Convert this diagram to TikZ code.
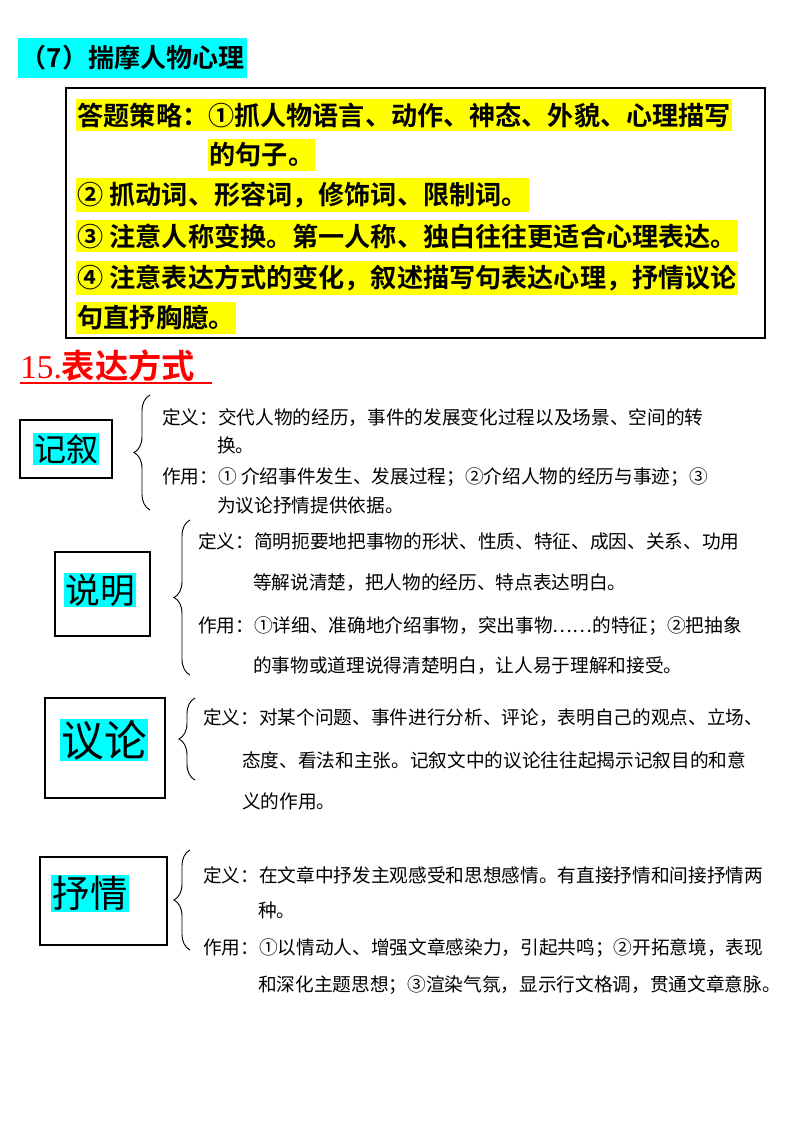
\documentclass[tikz,border=0pt]{standalone}
\usepackage{fontspec}
\setmainfont{Noto Sans CJK SC}
\newfontfamily\cjkb{Noto Sans CJK SC Bold}
\newfontfamily\serifb{Liberation Serif}
\usetikzlibrary{decorations.pathreplacing}
\definecolor{cy}{RGB}{0,255,255}
\definecolor{yl}{RGB}{255,255,0}
\tikzset{
 hl/.style={fill=yl,inner xsep=1pt,inner ysep=3pt,anchor=west,font=\cjkb\fontsize{19.6}{21}\selectfont},
 body/.style={anchor=west,inner sep=0pt,font=\fontsize{14}{15}\selectfont},
 bodyb/.style={anchor=west,inner sep=0pt,font=\fontsize{14}{15}\selectfont},
 kbox/.style={draw,line width=0.8pt},
 klab/.style={fill=cy,inner sep=1pt},
 br/.style={decorate,decoration={brace,amplitude=12pt},line width=0.7pt}
}
\begin{document}
\begin{tikzpicture}[x=0.75pt,y=-0.75pt]
\useasboundingbox (0,0) rectangle (800,1132);
\node[fill=cy,anchor=west,inner sep=2pt,minimum height=40*0.75pt,font=\cjkb\fontsize{19.5}{21}\selectfont] (t7) at (18,58) {（7）揣摩人物心理};
\draw[line width=0.8pt] (66,88) rectangle (765,338);
\node[hl] (l1) at (76,115) {答题策略：①抓人物语言、动作、神态、外貌、心理描写};
\node[hl] (l2) at (208,155) {的句子。};
\node[hl] (l3) at (76,195) {② 抓动词、形容词，修饰词、限制词。};
\node[hl] (l4) at (76,236) {③ 注意人称变换。第一人称、独白往往更适合心理表达。};
\node[hl] (l5) at (76,278) {④ 注意表达方式的变化，叙述描写句表达心理，抒情议论};
\node[hl] (l6) at (76,318) {句直抒胸臆。};
\node[anchor=west,inner sep=0pt,text=red,font=\fontsize{25}{27}\selectfont] (t15) at (20,366) {\serifb 15.\cjkb 表达方式};
\draw[red,line width=1pt] (20,383) -- (212,383);
% 记叙
\draw[kbox] (20,420) rectangle (112,478);
\node[klab,font=\fontsize{24}{26}\selectfont] (k1) at (66,449) {记叙};
\draw[br] (150,510) -- (150,395);
\node[body] (a1) at (162,418) {定义：交代人物的经历，事件的发展变化过程以及场景、空间的转};
\node[body] (a2) at (217,445) {换。};
\node[body] (a3) at (162,477) {作用：① 介绍事件发生、发展过程；②介绍人物的经历与事迹；③};
\node[body] (a4) at (217,505) {为议论抒情提供依据。};
% 说明
\draw[kbox] (55,552) rectangle (150,636);
\node[klab,font=\fontsize{26}{28}\selectfont] (k2) at (100,590) {说明};
\draw[br] (190,675) -- (190,520);
\node[bodyb] (b1) at (198,541) {定义：简明扼要地把事物的形状、性质、特征、成因、关系、功用};
\node[bodyb] (b2) at (253,583) {等解说清楚，把人物的经历、特点表达明白。};
\node[bodyb] (b3) at (198,626) {作用：①详细、准确地介绍事物，突出事物……的特征；②把抽象};
\node[bodyb] (b4) at (253,666) {的事物或道理说得清楚明白，让人易于理解和接受。};
% 议论
\draw[kbox] (45,698) rectangle (165,798);
\node[klab,font=\fontsize{32}{34}\selectfont] (k3) at (104,740) {议论};
\draw[br] (195,780) -- (195,698);
\node[bodyb] (c1) at (203,718) {定义：对某个问题、事件进行分析、评论，表明自己的观点、立场、};
\node[bodyb] (c2) at (242,760) {态度、看法和主张。记叙文中的议论往往起揭示记叙目的和意};
\node[bodyb] (c3) at (242,801) {义的作用。};
% 抒情
\draw[kbox] (40,857) rectangle (167,945);
\node[klab,font=\fontsize{28}{30}\selectfont] (k4) at (90,893) {抒情};
\draw[br] (190,950) -- (190,850);
\node[bodyb] (d1) at (203,875) {定义：在文章中抒发主观感受和思想感情。有直接抒情和间接抒情两};
\node[bodyb] (d2) at (258,910) {种。};
\node[bodyb] (d3) at (203,948) {作用：①以情动人、增强文章感染力，引起共鸣；②开拓意境，表现};
\node[bodyb] (d4) at (258,985) {和深化主题思想；③渲染气氛，显示行文格调，贯通文章意脉。};
\end{tikzpicture}
\end{document}
